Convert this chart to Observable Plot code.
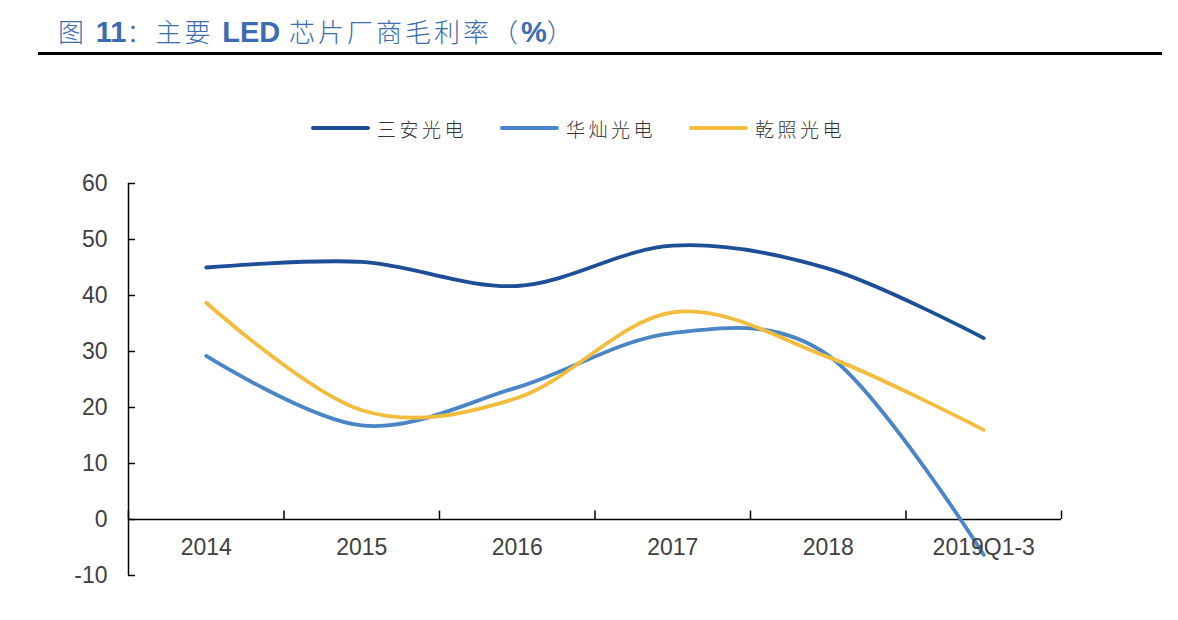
<!DOCTYPE html>
<html>
<head>
<meta charset="utf-8">
<script src="https://cdn.jsdelivr.net/npm/d3@7"></script>
<script src="https://cdn.jsdelivr.net/npm/@observablehq/plot@0.6"></script>
<style>
  html, body { margin: 0; padding: 0; background: #fff; }
  body { width: 1178px; height: 620px; position: relative; overflow: hidden; font-family: "Liberation Sans", Arial, sans-serif; }
  #title { position: absolute; left: 58px; top: 13px; font-family: "Noto Sans CJK SC", sans-serif; font-size: 26px; letter-spacing: 3px; line-height: 36px; color: #3B6CB0; white-space: nowrap; font-weight: 300; }
  #title b { font-family: "Liberation Sans", Arial, sans-serif; font-weight: bold; font-size: 29px; letter-spacing: 0; }
  #rule { position: absolute; left: 38px; top: 52px; width: 1124px; height: 3px; background: #000; }
  .lg { position: absolute; top: 116px; height: 24px; display: flex; align-items: center; }
  .lg .sw { width: 59px; height: 4px; border-radius: 2px; margin-right: 7px; }
  .lg .tx { font-family: "Noto Sans CJK SC", sans-serif; font-size: 19px; letter-spacing: 3.5px; color: #333; font-weight: 300; }
  #chart { position: absolute; left: 0; top: 150px; }
</style>
</head>
<body>
<div id="title">图 <b>11</b>：主要 <b>LED</b> 芯片厂商毛利率（<b>%</b>）</div>
<div id="rule"></div>
<div id="legend"></div>
<div id="chart"></div>
<script>
const categories = ["2014", "2015", "2016", "2017", "2018", "2019Q1-3"];
const sanan = [45.0, 46.0, 41.7, 48.9, 44.8, 32.4];
const huacan = [29.2, 16.8, 23.6, 33.3, 29.3, -6.3];
const qianzhao = [38.7, 19.5, 21.7, 37.0, 29.0, 16.0];
const seriesNames = ["三安光电", "华灿光电", "乾照光电"];
const seriesColors = ["#1F4E99", "#4A86C7", "#F2BC3C"];
const yTicks = [-10, 0, 10, 20, 30, 40, 50, 60];
const legendLeft = [311, 500, 689];

const seriesValues = [sanan, huacan, qianzhao];
const rows = seriesNames.flatMap((name, s) =>
  categories.map((c, i) => ({ series: name, i, value: seriesValues[s][i] })));
const labels = categories.map((c, i) => ({ i, c }));
const bounds = d3.range(categories.length + 1).map(k => k - 0.5);

const legend = document.getElementById("legend");
seriesNames.forEach((n, s) => {
  const d = document.createElement("div");
  d.className = "lg";
  d.style.left = legendLeft[s] + "px";
  d.innerHTML = `<div class="sw" style="background:${seriesColors[s]}"></div><div class="tx">${n}</div>`;
  legend.appendChild(d);
});

const chart = Plot.plot({
  width: 1178,
  height: 470,
  marginLeft: 128,
  marginRight: 117,
  marginTop: 33,
  marginBottom: 45,
  style: { fontFamily: "Liberation Sans, Arial, sans-serif", fontSize: "23px", color: "#404040", background: "transparent" },
  x: { domain: [-0.5, categories.length - 0.5], axis: null },
  y: { domain: [-10, 60], axis: null },
  color: { domain: seriesNames, range: seriesColors },
  marks: [
    Plot.axisY({ ticks: yTicks, tickFormat: d => String(d), label: null, tickSize: -7, tickPadding: 28, fontSize: 23, fill: "#404040", stroke: "#000", strokeWidth: 1.5 }),
    Plot.ruleX([-0.5], { y1: -10, y2: 60, stroke: "#000", strokeWidth: 1.5 }),
    Plot.ruleY([0], { x1: -0.5, x2: categories.length - 0.5, stroke: "#000", strokeWidth: 1.5 }),
    Plot.ruleX(bounds, { y1: 0, y2: 1.5, stroke: "#000", strokeWidth: 1.5 }),
    Plot.line(rows, { x: "i", y: "value", z: "series", stroke: "series", strokeWidth: 3.8, curve: "cardinal", strokeLinecap: "round", strokeLinejoin: "round" }),
    Plot.text(labels, { x: "i", y: 0, text: "c", dy: 28, fontSize: 23, fill: "#404040" })
  ]
});
document.getElementById("chart").appendChild(chart);
</script>
</body>
</html>
